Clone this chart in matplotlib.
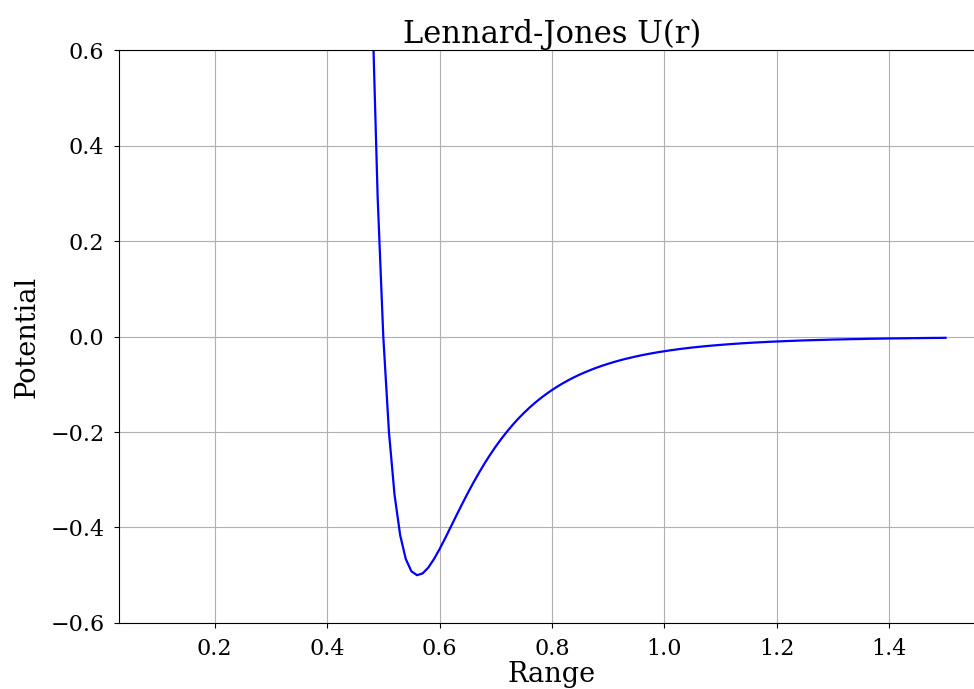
import numpy as np
import matplotlib.pyplot as plt

plt.rcParams['font.family'] = 'DejaVu Serif'

# sample grid, step 0.01
r = np.round(np.arange(0.48, 1.505, 0.01), 2)
U = [0.7091, 0.2910, 0.0, -0.1990, -0.3314, -0.4160, -0.4661, -0.4917, -0.4999, -0.4961,
     -0.4840, -0.4664, -0.4455, -0.4226, -0.3988, -0.3749, -0.3514, -0.3285, -0.3066, -0.2858,
     -0.2661, -0.2476, -0.2303, -0.2142, -0.1992, -0.1852, -0.1722, -0.1602, -0.1490, -0.1387,
     -0.1291, -0.1203, -0.1121, -0.1045, -0.0975, -0.0910, -0.0850, -0.0794, -0.0743, -0.0695,
     -0.0650, -0.0609, -0.0571, -0.0535, -0.0502, -0.0471, -0.0443, -0.0416, -0.0391, -0.0368,
     -0.0347, -0.0326, -0.0308, -0.0290, -0.0274, -0.0258, -0.0244, -0.0230, -0.0218, -0.0206,
     -0.0195, -0.0185, -0.0175, -0.0166, -0.0157, -0.0149, -0.0141, -0.0134, -0.0127, -0.0121,
     -0.0115, -0.0109, -0.0104, -0.0099, -0.0094, -0.0090, -0.0085, -0.0081, -0.0078, -0.0074,
     -0.0071, -0.0068, -0.0064, -0.0062, -0.0059, -0.0056, -0.0054, -0.0052, -0.0049, -0.0047,
     -0.0045, -0.0043, -0.0041, -0.0040, -0.0038, -0.0037, -0.0035, -0.0034, -0.0032, -0.0031,
     -0.0030, -0.0029, -0.0027]

fig = plt.figure(figsize=(9.74, 6.89), dpi=100)
ax = fig.add_axes([0.1222, 0.0958, 0.889, 0.8316])
ax.plot(r, U, color='b', lw=1.6)
ax.set_xlim(0.03, 1.57)
ax.set_ylim(-0.6, 0.6)
ax.grid(True)
ax.set_title('Lennard-Jones U(r)', fontsize=22, pad=5)
ax.set_xlabel('Range', fontsize=19.5, labelpad=1)
ax.set_ylabel('Potential', fontsize=19.5, labelpad=7)
ax.tick_params(labelsize=16, pad=7)
fig.savefig('out.png', dpi=100)
